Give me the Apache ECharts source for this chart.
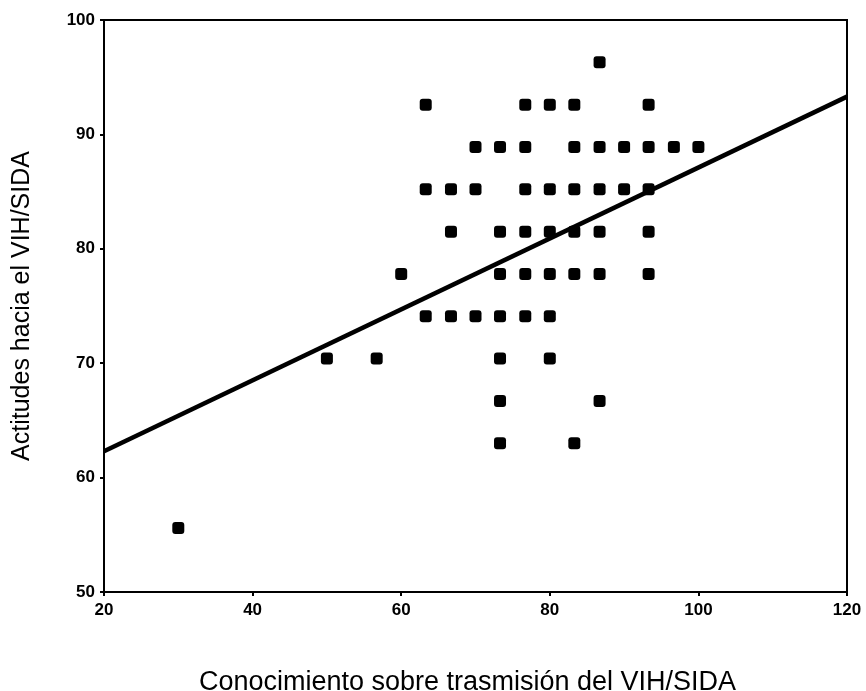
<!DOCTYPE html>
<html>
<head>
<meta charset="utf-8">
<script src="https://cdn.jsdelivr.net/npm/echarts@6/dist/echarts.min.js"></script>
<style>
  html, body { margin: 0; padding: 0; background: #fff; }
  #main { width: 866px; height: 691px; }
</style>
</head>
<body>
<div id="main"></div>
<script>
// puntos del diagrama: conocimiento (x) y actitudes (y)
var conocimiento = [
  86.7,
  63.3, 76.7, 80, 83.3, 93.3,
  70, 73.3, 76.7, 83.3, 86.7, 90, 93.3, 96.7, 100,
  63.3, 66.7, 70, 76.7, 80, 83.3, 86.7, 90, 93.3,
  66.7, 73.3, 76.7, 80, 83.3, 86.7, 93.3,
  60, 73.3, 76.7, 80, 83.3, 86.7, 93.3,
  63.3, 66.7, 70, 73.3, 76.7, 80,
  50, 56.7, 73.3, 80,
  73.3, 86.7,
  73.3, 83.3,
  30
];
var actitudes = [
  96.3,
  92.6, 92.6, 92.6, 92.6, 92.6,
  88.9, 88.9, 88.9, 88.9, 88.9, 88.9, 88.9, 88.9, 88.9,
  85.2, 85.2, 85.2, 85.2, 85.2, 85.2, 85.2, 85.2, 85.2,
  81.5, 81.5, 81.5, 81.5, 81.5, 81.5, 81.5,
  77.8, 77.8, 77.8, 77.8, 77.8, 77.8, 77.8,
  74.1, 74.1, 74.1, 74.1, 74.1, 74.1,
  70.4, 70.4, 70.4, 70.4,
  66.7, 66.7,
  63.0, 63.0,
  55.6
];
// recta de regresion (extremos)
var rectaX = [20, 120];
var rectaY = [62.3, 93.3];

var puntos = conocimiento.map(function (x, i) { return [x, actitudes[i]]; });
var recta = rectaX.map(function (x, i) { return [x, rectaY[i]]; });

var myChart = echarts.init(document.getElementById('main'));
var fuente = 'Liberation Sans, Arial, sans-serif';

myChart.setOption({
  backgroundColor: '#fff',
  animation: false,
  grid: {
    left: 104, right: 19, top: 20, bottom: 99,
    outerBoundsMode: 'none',
    show: true, borderColor: '#000', borderWidth: 2
  },
  xAxis: {
    type: 'value',
    min: 20, max: 120, interval: 20,
    name: 'Conocimiento sobre trasmisión del VIH/SIDA',
    nameLocation: 'middle',
    nameGap: 77,
    nameTextStyle: { color: '#000', fontSize: 27, fontFamily: fuente, padding: [0, 16, 0, 0] },
    axisLine: { lineStyle: { color: '#000', width: 2 } },
    axisTick: { show: true, length: 4, lineStyle: { color: '#000', width: 2 } },
    axisLabel: { color: '#000', fontSize: 17, fontFamily: fuente, fontWeight: 'bold', margin: 10 },
    splitLine: { show: false }
  },
  yAxis: {
    type: 'value',
    min: 50, max: 100, interval: 10,
    name: 'Actitudes hacia el VIH/SIDA',
    nameLocation: 'middle',
    nameGap: 69,
    nameTextStyle: { color: '#000', fontSize: 25, fontFamily: fuente },
    axisLine: { lineStyle: { color: '#000', width: 2 } },
    axisTick: { show: true, length: 4, lineStyle: { color: '#000', width: 2 } },
    axisLabel: { color: '#000', fontSize: 17, fontFamily: fuente, fontWeight: 'bold', margin: 9 },
    splitLine: { show: false }
  },
  series: [
    {
      type: 'scatter',
      data: puntos,
      symbol: 'roundRect',
      symbolSize: 12,
      itemStyle: { color: '#000', opacity: 1 }
    },
    {
      type: 'line',
      data: recta,
      symbol: 'none',
      lineStyle: { color: '#000', width: 4.5 }
    }
  ]
});
</script>
</body>
</html>
